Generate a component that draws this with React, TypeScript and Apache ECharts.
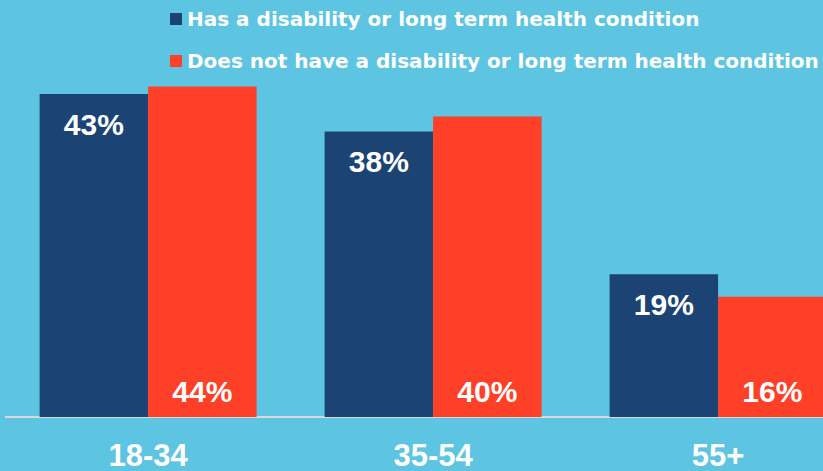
import React, { useEffect, useRef } from "react";
import * as echarts from "echarts";

const categories = ["18-34", "35-54", "55+"];
const seriesNames = [
  "Has a disability or long term health condition",
  "Does not have a disability or long term health condition",
];
const disabilityValues = [43, 38, 19];
const noDisabilityValues = [44, 40, 16];

export default function App() {
  const ref = useRef<HTMLDivElement>(null);

  useEffect(() => {
    document.body.style.margin = "0";
    document.body.style.overflow = "hidden";
    document.documentElement.style.overflow = "hidden";
    if (!ref.current) return;
    const chart = echarts.init(ref.current, null, { renderer: "svg" });
    const labelBase = {
      show: true,
      color: "#ffffff",
      fontFamily: "Liberation Sans, Arial, sans-serif",
      fontWeight: "bold" as const,
      fontSize: 30,
      formatter: "{c}%",
    };
    chart.setOption({
      animation: false,
      backgroundColor: "#5DC4E2",
      legend: {
        orient: "vertical",
        left: 170,
        top: 9,
        padding: 0,
        itemWidth: 12,
        itemHeight: 12,
        itemGap: 22,
        icon: "rect",
        textStyle: {
          color: "#ffffff",
          fontFamily: "DejaVu Sans, sans-serif",
          fontWeight: "bold",
          fontSize: 20,
          lineHeight: 20,
        },
        data: seriesNames,
      },
      grid: { left: 5.6, top: 41.5, right: 0.4, bottom: 51 },
      xAxis: {
        type: "category",
        data: categories,
        axisTick: { show: false },
        axisLine: { show: true, lineStyle: { color: "#D9D9D9", width: 2 } },
        axisLabel: {
          color: "#ffffff",
          fontFamily: "Liberation Sans, Arial, sans-serif",
          fontWeight: "bold",
          fontSize: 31,
          margin: 23,
        },
      },
      yAxis: {
        type: "value",
        min: 0,
        max: 50,
        show: false,
        splitLine: { show: false },
      },
      series: [
        {
          name: seriesNames[0],
          type: "bar",
          data: disabilityValues,
          barWidth: 108.5,
          barGap: "0%",
          itemStyle: { color: "#1B4474" },
          label: { ...labelBase, position: "insideTop", distance: 15 },
        },
        {
          name: seriesNames[1],
          type: "bar",
          data: noDisabilityValues,
          barWidth: 108.5,
          barGap: "0%",
          itemStyle: { color: "#FF4028" },
          label: { ...labelBase, position: "insideBottom", distance: 11 },
        },
      ],
    });
    return () => chart.dispose();
  }, []);

  return <div ref={ref} style={{ width: 861, height: 471 }} />;
}
